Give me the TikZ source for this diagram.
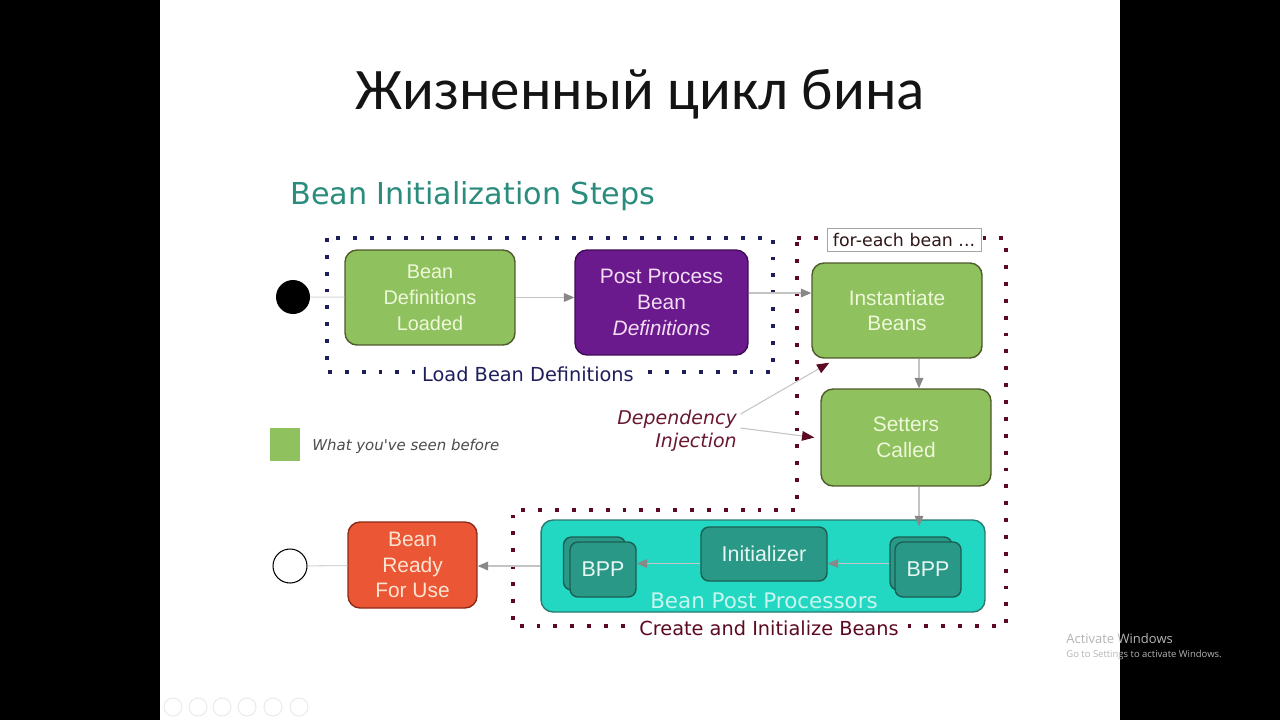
\documentclass[tikz,border=0pt]{standalone}
\usepackage{fontspec}
\setmainfont{Liberation Sans}
\newfontfamily\carl{Carlito}
\newfontfamily\dv{DejaVu Sans}
\newfontfamily\osans{Open Sans}
\usetikzlibrary{arrows.meta,calc}
\definecolor{gfill}{HTML}{8FC15E}
\definecolor{gborder}{HTML}{4E5A2A}
\definecolor{gtext}{HTML}{EEF8DA}
\definecolor{pfill}{HTML}{6B1A8E}
\definecolor{pborder}{HTML}{3E0A55}
\definecolor{ptext}{HTML}{F3DDF3}
\definecolor{rfill}{HTML}{EB5634}
\definecolor{rborder}{HTML}{8C2A1A}
\definecolor{rtext}{HTML}{FDE4D2}
\definecolor{tfill}{HTML}{22D8C2}
\definecolor{tborder}{HTML}{2A7A70}
\definecolor{dtfill}{HTML}{2A9886}
\definecolor{dtborder}{HTML}{1B5E54}
\definecolor{dttext}{HTML}{E6F7F2}
\definecolor{bpptext}{HTML}{C8F6EE}
\definecolor{headteal}{HTML}{2A8C7C}
\definecolor{navy}{HTML}{1E1E5C}
\definecolor{maroon}{HTML}{5C0A22}
\definecolor{ditext}{HTML}{6A1830}
\definecolor{lgray}{HTML}{C4C4C4}
\definecolor{hgray}{HTML}{888888}
\definecolor{wmgray}{HTML}{B4B4B4}
\definecolor{fetext}{HTML}{301818}
\begin{document}
\begin{tikzpicture}[x=0.02cm,y=-0.02cm,
  stepbox/.style={rounded corners=0.24cm, line width=0.8pt, align=center, inner sep=0pt,
    font=\fontsize{11.9}{14.7}\selectfont},
  greenbox/.style={stepbox, fill=gfill, draw=gborder, text=gtext, minimum width=3.4cm, minimum height=1.9cm},
  purplebox/.style={stepbox, fill=pfill, draw=pborder, text=ptext},
  redbox/.style={stepbox, fill=rfill, draw=rborder, text=rtext},
  tealbig/.style={rounded corners=0.24cm, fill=tfill, draw=tborder, line width=0.8pt},
  darkteal/.style={rounded corners=0.16cm, fill=dtfill, draw=dtborder, line width=0.8pt, text=dttext,
    font=\fontsize{12.2}{14.7}\selectfont, align=center, inner sep=0pt},
  arr/.style={draw=lgray, line width=0.6pt, -{Triangle[color=hgray,length=6pt,width=5pt]}},
  darr/.style={draw=lgray, line width=0.6pt, -{Triangle[color=maroon,length=7pt,width=5.5pt]}},
  lline/.style={draw=lgray!70, line width=0.6pt},
  navydots/.style={draw=navy, line width=2.2pt, dash pattern=on 2.2pt off 7.4pt},
  maroondots/.style={draw=maroon, line width=2.2pt, dash pattern=on 2.2pt off 7.4pt}
]
\useasboundingbox (0,0) rectangle (1280,720);
\fill[black] (0,0) rectangle (1280,720);
\fill[white] (160,0) rectangle (1120,720);

% titles
\node[font=\carl\fontsize{33.5}{40}\selectfont, anchor=base, text=black!92] (title) at (640,109) {Жизненный цикл бина};
\node[anchor=base west, text=headteal, font=\dv\fontsize{17.2}{20}\selectfont, inner sep=0pt] (head) at (290,204) {Bean Initialization Steps};

% dotted frames
\draw[navydots] (327,238) rectangle (773,372);
\draw[maroondots] (797,238) -- (1006,238) -- (1006,626) -- (513,626) -- (513,510) -- (797,510) -- cycle;

% start / end
\node[circle, fill=black, minimum size=0.68cm, inner sep=0pt] (start) at (293,297) {};
\node[circle, draw=black, line width=0.6pt, fill=white, minimum size=0.68cm, inner sep=0pt] (end) at (290,566) {};

% boxes
\node[greenbox, font=\fontsize{11.3}{14.7}\selectfont] (b1) at (430,297.5) {Bean\\Definitions\\Loaded};
\node[purplebox, minimum width=3.46cm, minimum height=2.1cm] (b2) at (661.5,302.5) {Post Process\\Bean\\\textit{Definitions}};
\node[greenbox] (inst) at (897,310.5) {Instantiate\\Beans};
\node[greenbox, minimum height=1.94cm] (set) at (906,437.5) {Setters\\Called};
\node[redbox, minimum width=2.58cm, minimum height=1.72cm] (ready) at (412.5,565) {Bean\\Ready\\For Use};

\node[tealbig, minimum width=8.88cm, minimum height=1.84cm] (bppbox) at (763,566) {};
\node[darkteal, minimum width=2.52cm, minimum height=1.08cm] (init) at (764,554) {Initializer};
\node[darkteal, minimum width=1.24cm, minimum height=1.06cm] (bppLb) at (594.5,563.5) {};
\node[darkteal, minimum width=1.32cm, minimum height=1.1cm] (bppLf) at (603,569.5) {BPP};
\node[darkteal, minimum width=1.24cm, minimum height=1.06cm] (bppRb) at (921,563.5) {};
\node[darkteal, minimum width=1.32cm, minimum height=1.1cm] (bppRf) at (928,569.5) {BPP};
\node[text=bpptext, font=\dv\fontsize{12.2}{14}\selectfont, inner sep=0pt] (bpplabel) at (764,601) {Bean Post Processors};

% labels on frames
\node[fill=white, text=navy, font=\dv\fontsize{11}{13}\selectfont, inner xsep=4pt, inner ysep=1pt] (lbl1) at (528,374) {Load Bean Definitions};
\node[draw=gray!70, line width=0.5pt, fill=white, text=fetext, font=\dv\fontsize{9.9}{12}\selectfont,
  minimum width=3.08cm, minimum height=0.46cm, inner sep=0pt] (fe) at (904,240) {for-each bean ...};
\node[fill=white, text=maroon, font=\dv\fontsize{11}{13}\selectfont, inner xsep=3pt, inner ysep=1pt] (lbl2) at (769,628) {Create and Initialize Beans};

% dependency injection
\node[align=right, text=ditext, font=\dv\itshape\fontsize{10.8}{13}\selectfont, inner sep=2pt] (di) at (677,431) {Dependency\\Injection};

% legend
\node[fill=gfill, minimum width=0.6cm, minimum height=0.66cm, inner sep=0pt] (legsq) at (285,444.5) {};
\node[anchor=west, text=black!70, font=\dv\itshape\fontsize{8.5}{10}\selectfont, inner sep=0pt] (legtxt) at (312,446) {What you've seen before};

% connectors
\draw[lline] (start) -- (b1);
\draw[arr] (b1.east) -- (b1.east -| b2.west);
\draw[arr] ([yshift=0.19cm]b2.east) -- ([yshift=0.19cm]b2.east -| inst.west);
\draw[arr] ([xshift=0.44cm]inst.south) -- ([xshift=0.44cm]inst.south |- set.north);
\draw[arr, shorten >=-0.14cm] ([xshift=0.26cm]set.south) -- ([xshift=0.26cm]set.south |- bppbox.north);
\draw[arr] (bppRb.west) -- (bppRb.west -| init.east);
\draw[arr] (init.west |- bppLb) -- (bppLf.east |- bppLb);
\draw[arr] (bppbox.west) -- (bppbox.west -| ready.east);
\draw[lline] (ready) -- (end);
\draw[darr] ([yshift=0.34cm]di.east) -- ([xshift=0.36cm,yshift=-0.08cm]inst.south west);
\draw[darr] ([yshift=0.06cm]di.east) -- ([xshift=-0.12cm]set.west);

% watermark
\node[anchor=base west, text=wmgray, font=\osans\fontsize{7.4}{9}\selectfont, inner sep=0pt] (wm1) at (1066,643) {Activate Windows};
\node[anchor=base west, text=wmgray, font=\osans\fontsize{5.4}{7}\selectfont, inner sep=0pt] (wm2) at (1066,657) {Go to Settings to activate Windows.};

% faint toolbar
\foreach \cx in {173,198,222,247,273,299}
  \draw[draw=gray!18, line width=0.5pt] (\cx,707) circle [radius=9];
\end{tikzpicture}
\end{document}
